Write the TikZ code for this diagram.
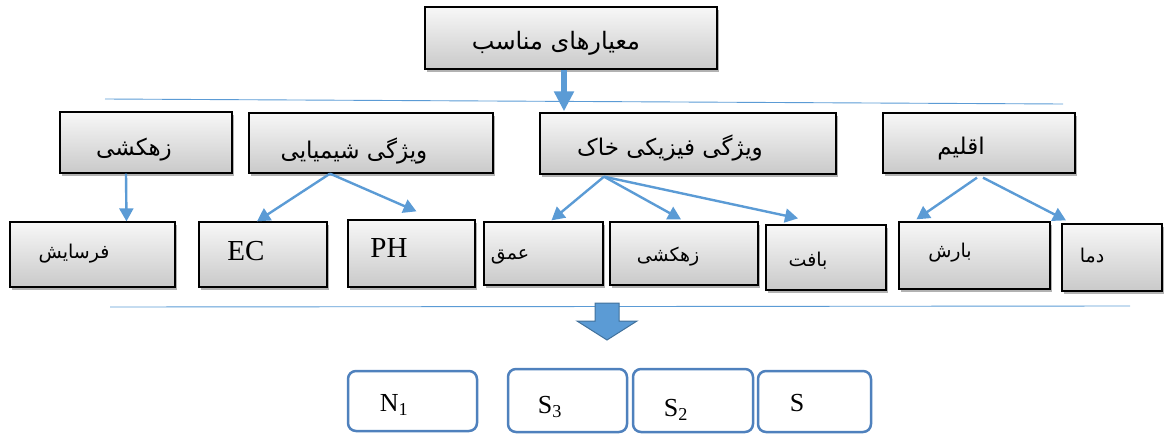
\documentclass[tikz,border=0pt]{standalone}
\usepackage{fontspec}
\setmainfont{Liberation Serif}
\newfontfamily\arabicfont[Script=Arabic]{DejaVu Sans}
\TeXXeTstate=1
\usetikzlibrary{shadows,fit,arrows.meta}
\definecolor{lblue}{HTML}{5B9BD5}
\definecolor{dblue}{HTML}{41719C}
\definecolor{rblue}{HTML}{4F81BD}
\begin{document}
\begin{tikzpicture}[x=1pt,y=-1pt,
 box/.style={draw=black, line width=1.3pt, top color=gray!6, bottom color=gray!42,
   drop shadow={shadow xshift=2pt,shadow yshift=-3pt,opacity=0.3,fill=black}, inner sep=0pt},
 rbox/.style={draw=rblue, line width=2.5pt, rounded corners=8pt, fill=white, inner sep=0pt},
 conn/.style={draw=lblue, line width=2.4pt, -{Triangle[length=13pt,width=14pt]}},
 bigconn/.style={draw=lblue, line width=6pt, -{Triangle[length=20pt,width=19pt]}},
 fa/.style={font=\arabicfont\fontsize{#1}{#1}\selectfont, inner sep=0pt},
 la/.style={font=\fontsize{#1}{#1}\selectfont, inner sep=0pt},
 sepline/.style={draw=lblue, line width=0.9pt}]
\useasboundingbox (0,0) rectangle (1164,434);
% separator lines
\coordinate (l1a) at (105,99); \coordinate (l1b) at (1063,104);
\coordinate (l2a) at (110,307); \coordinate (l2b) at (1130,306);
\draw[sepline] (l1a) -- (l1b);
\draw[sepline] (l2a) -- (l2b);
% top
\node[box, fit={(425,7)(717,69)}] (top) {};
% row 2
\node[box, fit={(60,112)(232,173)}] (drain) {};
\node[box, fit={(249,113)(493,173)}] (chem) {};
\node[box, fit={(540,113)(836,174)}] (phys) {};
\node[box, fit={(883,113)(1075,173)}] (clim) {};
% row 3
\node[box, fit={(10,222)(175,287)}] (eros) {};
\node[box, fit={(199,222)(327,287)}] (ec) {};
\node[box, fit={(348,220)(475,287)}] (ph) {};
\node[box, fit={(484,222)(603,285)}] (depth) {};
\node[box, fit={(610,222)(758,285)}] (drain2) {};
\node[box, fit={(766,225)(886,290)}] (tex) {};
\node[box, fit={(899,222)(1050,289)}] (rain) {};
\node[box, fit={(1062,224)(1162,291)}] (temp) {};
% bottom
\node[rbox, fit={(348,371)(477,431)}] (n1) {};
\node[rbox, fit={(508,369)(627,432)}] (s3) {};
\node[rbox, fit={(633,369)(753,432)}] (s2) {};
\node[rbox, fit={(758,371)(871,432)}] (s1) {};
% texts
\node[fa=24] (tTop) at (556,43) {\beginR معیارهای مناسب\endR};
\node[fa=23] (tDrain) at (134,150) {\beginR زهکشی\endR};
\node[fa=23] (tChem) at (354,151) {\beginR ویژگی شیمیایی\endR};
\node[fa=23] (tPhys) at (670,148) {\beginR ویژگی فیزیکی خاک\endR};
\node[fa=23] (tClim) at (961,149) {\beginR اقلیم\endR};
\node[fa=19] (tEros) at (74,254) {\beginR فرسایش\endR};
\node[la=29] (tEC) at (246,251) {EC};
\node[la=29] (tPH) at (389,248) {PH};
\node[fa=19] (tDepth) at (510,257) {\beginR عمق\endR};
\node[fa=19] (tDrain2) at (668,257) {\beginR زهکشی\endR};
\node[fa=19] (tTex) at (808,261) {\beginR بافت\endR};
\node[fa=19] (tRain) at (950,253) {\beginR بارش\endR};
\node[fa=19] (tTemp) at (1092,256) {\beginR دما\endR};
\node[la=26] (tN1) at (394,405) {N\textsubscript{1}};
\node[la=26] (tS3) at (550,407) {S\textsubscript{3}};
\node[la=26] (tS2) at (676,410) {S\textsubscript{2}};
\node[la=26] (tS1) at (797,403) {S};
% connectors
\draw[bigconn] ([xshift=-7pt]top.south) -- ([xshift=-124pt,yshift=1pt]phys.north);
\draw[conn] ([xshift=-20pt]drain.south) -- ([xshift=34pt]eros.north);
\draw[conn] ([xshift=-41pt]chem.south) -- ([xshift=-6pt]ec.north);
\draw[conn] ([xshift=-41pt]chem.south) -- ([xshift=5pt,yshift=8pt]ph.north);
\draw[conn] ([xshift=-84pt,yshift=-2pt]phys.south) -- ([xshift=8pt,yshift=1pt]depth.north);
\draw[conn] ([xshift=-84pt,yshift=-2pt]phys.south) -- ([xshift=-3pt,yshift=2pt]drain2.north);
\draw[conn] ([xshift=-84pt,yshift=-2pt]phys.south) -- ([xshift=-28pt,yshift=6pt]tex.north);
\draw[conn] ([xshift=-2pt,yshift=-4pt]clim.south) -- ([xshift=-58pt,yshift=2pt]rain.north);
\draw[conn] ([xshift=4pt,yshift=-4pt]clim.south) -- ([xshift=-46pt,yshift=3pt]temp.north);
% big block arrow
\draw[fill=lblue, draw=dblue, line width=1pt]
  (595,303) -- (619,303) -- (619,321) -- (637,321) -- (607,340) -- (577,321) -- (595,321) -- cycle;
\end{tikzpicture}
\end{document}
